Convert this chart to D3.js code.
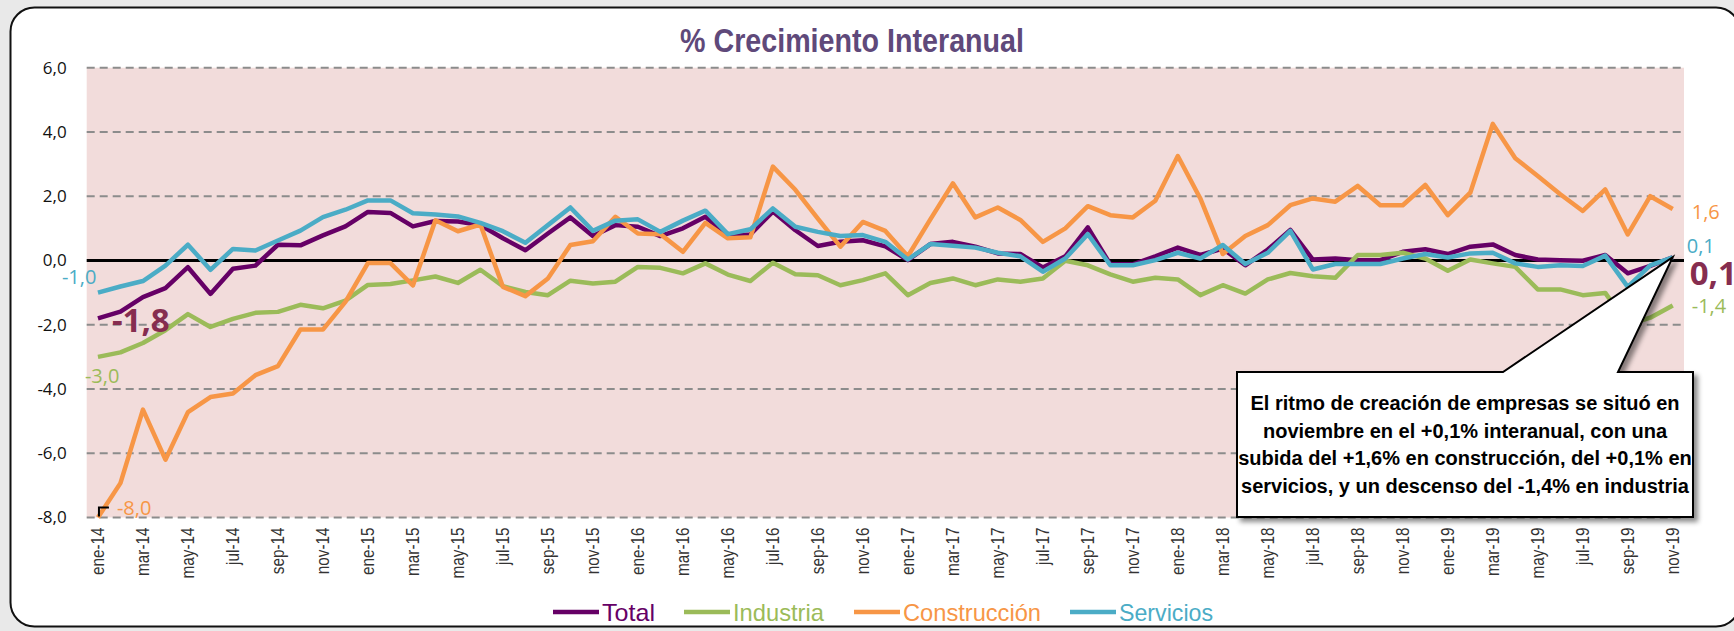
<!DOCTYPE html>
<html lang="es">
<head>
<meta charset="UTF-8">
<title>% Crecimiento Interanual</title>
<script src="https://cdn.jsdelivr.net/npm/d3@7/dist/d3.min.js"></script>
<style>
    html, body { margin: 0; padding: 0; background: #e9e9e9; }
    svg { display: block; }
</style>
</head>
<body>
<svg id="chart" width="1734" height="631"></svg>
<script>

// ene-14 ... nov-19
var monthNames = ["ene", "feb", "mar", "abr", "may", "jun", "jul", "ago", "sep", "oct", "nov", "dic"];
var years = ["14", "15", "16", "17", "18", "19"];
var months = [];
years.forEach(function(y) {
    monthNames.forEach(function(m) { months.push(m + "-" + y); });
});
months = months.slice(0, 71);

var total = [
    -1.8, -1.59, -1.14, -0.86, -0.21, -1.04, -0.26, -0.16, 0.49, 0.47, 0.78, 1.06,
    1.51, 1.48, 1.06, 1.23, 1.21, 1.1, 0.69, 0.32, 0.84, 1.34, 0.76, 1.1,
    1.05, 0.76, 1.0, 1.36, 0.76, 0.81, 1.52, 0.94, 0.45, 0.58, 0.63, 0.44,
    0.01, 0.51, 0.58, 0.43, 0.22, 0.2, -0.22, 0.13, 1.03, -0.12, -0.12, 0.13,
    0.4, 0.17, 0.37, -0.15, 0.34, 0.95, 0.03, 0.06, 0.01, 0.01, 0.27, 0.35,
    0.2, 0.43, 0.5, 0.17, 0.03, 0.01, -0.01, 0.17, -0.4, -0.17, 0.1
];
var industria = [
    -3.0, -2.86, -2.57, -2.17, -1.67, -2.07, -1.82, -1.63, -1.6, -1.38, -1.49, -1.25,
    -0.76, -0.73, -0.62, -0.5, -0.7, -0.29, -0.8, -0.98, -1.08, -0.63, -0.72, -0.66,
    -0.2, -0.23, -0.4, -0.09, -0.44, -0.64, -0.07, -0.43, -0.46, -0.77, -0.61, -0.4,
    -1.08, -0.7, -0.56, -0.77, -0.59, -0.66, -0.56, -0.01, -0.15, -0.43, -0.66, -0.54,
    -0.59, -1.08, -0.77, -1.03, -0.59, -0.39, -0.49, -0.54, 0.17, 0.17, 0.24, 0.06,
    -0.32, 0.03, -0.09, -0.2, -0.9, -0.9, -1.08, -1.01, -2.0, -1.78, -1.4
];
var construccion = [
    -8.0, -6.93, -4.64, -6.2, -4.72, -4.25, -4.14, -3.57, -3.29, -2.15, -2.15, -1.29,
    -0.08, -0.08, -0.78, 1.25, 0.91, 1.12, -0.82, -1.11, -0.56, 0.48, 0.6, 1.36,
    0.84, 0.82, 0.27, 1.17, 0.69, 0.72, 2.92, 2.2, 1.3, 0.43, 1.2, 0.92,
    0.13, 1.28, 2.4, 1.34, 1.65, 1.26, 0.58, 1.0, 1.69, 1.41, 1.34, 1.86,
    3.25, 1.93, 0.2, 0.76, 1.1, 1.72, 1.93, 1.83, 2.32, 1.72, 1.72, 2.35,
    1.41, 2.11, 4.25, 3.18, 2.63, 2.06, 1.54, 2.21, 0.81, 2.0, 1.6
];
var servicios = [
    -1.0, -0.81, -0.64, -0.16, 0.49, -0.29, 0.36, 0.31, 0.62, 0.93, 1.35, 1.58,
    1.87, 1.87, 1.47, 1.43, 1.37, 1.17, 0.91, 0.55, 1.1, 1.65, 0.92, 1.24,
    1.28, 0.89, 1.24, 1.55, 0.82, 0.97, 1.62, 1.05, 0.89, 0.76, 0.79, 0.58,
    0.03, 0.51, 0.46, 0.4, 0.24, 0.13, -0.35, 0.06, 0.82, -0.15, -0.15, 0.01,
    0.24, 0.06, 0.48, -0.11, 0.24, 0.92, -0.28, -0.11, -0.11, -0.11, 0.06, 0.2,
    0.09, 0.22, 0.24, -0.09, -0.2, -0.15, -0.17, 0.15, -0.82, -0.15, 0.1
];

var yTicks = [-8, -6, -4, -2, 0, 2, 4, 6];
var seriesNames = ["Total", "Industria", "Construcción", "Servicios"];
var seriesColors = ["#660066", "#9bbb59", "#f79646", "#4bacc6"];
var seriesValues = [total, industria, construccion, servicios];

var calloutLines = [
    "El ritmo de creación de empresas se situó en",
    "noviembre en el +0,1% interanual, con una",
    "subida del +1,6% en construcción, del +0,1% en",
    "servicios, y un descenso del -1,4% en industria"
];

var es = d3.formatLocale({decimal: ",", thousands: ".", grouping: [3], currency: ["", " €"], minus: "-"});
var fmt = es.format(".1f");

var svg = d3.select("#chart");

// sombra del recuadro
var defs = svg.append("defs");
var filt = defs.append("filter").attr("id", "shadow")
    .attr("x", "-10%").attr("y", "-10%").attr("width", "130%").attr("height", "140%");
filt.append("feDropShadow")
    .attr("dx", 4).attr("dy", 4).attr("stdDeviation", 2.5)
    .attr("flood-color", "#000").attr("flood-opacity", 0.45);

// marco exterior
svg.append("rect")
    .attr("x", 10.5).attr("y", 7.5)
    .attr("width", 1729.5).attr("height", 619)
    .attr("rx", 24)
    .attr("fill", "#fff")
    .attr("stroke", "#111")
    .attr("stroke-width", 2);

var plot = {left: 86.7, right: 1684, top: 67.7, bottom: 517.5};

var x = d3.scaleBand()
    .domain(months)
    .range([plot.left, plot.right])
    .padding(0);

var y = d3.scaleLinear()
    .domain([-8, 6])
    .range([plot.bottom, plot.top]);

var cx = function(i) { return x(months[i]) + x.bandwidth() / 2; };

// fondo
svg.append("rect")
    .attr("x", plot.left).attr("y", plot.top)
    .attr("width", plot.right - plot.left)
    .attr("height", plot.bottom - plot.top)
    .attr("fill", "#f2dcdb");

// rejilla
svg.append("g")
    .selectAll("line")
    .data(yTicks.filter(function(d) { return d !== 0; }))
    .enter().append("line")
    .attr("x1", plot.left).attr("x2", plot.right)
    .attr("y1", function(d) { return y(d); })
    .attr("y2", function(d) { return y(d); })
    .attr("stroke", "#8c8c8c")
    .attr("stroke-width", 2)
    .attr("stroke-dasharray", "8,5");

svg.append("line")
    .attr("x1", plot.left).attr("x2", plot.right)
    .attr("y1", y(0)).attr("y2", y(0))
    .attr("stroke", "#000")
    .attr("stroke-width", 3);

// eje Y
var yAxis = svg.append("g")
    .attr("transform", "translate(" + (plot.left - 20) + ",0)")
    .call(d3.axisLeft(y).tickValues(yTicks).tickSize(0).tickPadding(0).tickFormat(fmt));
yAxis.select(".domain").remove();
yAxis.selectAll("text")
    .attr("font-family", "Open Sans, Noto Sans, sans-serif")
    .attr("font-size", 17)
    .attr("fill", "#111");

// eje X
var xAxis = svg.append("g")
    .attr("transform", "translate(0," + (plot.bottom + 10) + ")")
    .call(d3.axisBottom(x)
        .tickValues(months.filter(function(d, i) { return i % 2 === 0; }))
        .tickSize(0).tickPadding(0));
xAxis.select(".domain").remove();
xAxis.selectAll("text")
    .attr("font-family", "Liberation Sans, Arial, sans-serif")
    .attr("font-size", 18)
    .attr("fill", "#333")
    .attr("text-anchor", "end")
    .attr("transform", "rotate(-90) scale(0.85,1)")
    .attr("x", 0)
    .attr("y", 0)
    .attr("dy", "0.35em");

// series
var line = d3.line()
    .x(function(d, i) { return cx(i); })
    .y(function(d) { return y(d); });

svg.append("g")
    .selectAll("path")
    .data(seriesValues)
    .enter().append("path")
    .attr("d", line)
    .attr("fill", "none")
    .attr("stroke", function(d, i) { return seriesColors[i]; })
    .attr("stroke-width", 4.5)
    .attr("stroke-linejoin", "round");

// guia de la etiqueta -8,0
svg.append("path")
    .attr("d", "M" + (cx(0) + 1) + "," + (y(construccion[0]) - 1) + "V" + (y(construccion[0]) - 10) + "h10")
    .attr("fill", "none")
    .attr("stroke", "#000")
    .attr("stroke-width", 2);

// etiquetas de inicio y fin
var labels = [
    {v: servicios[0], i: 0, dx: -36, dy: -9, c: seriesColors[3], big: false},
    {v: total[0], i: 0, dx: 14, dy: 14, c: "#862d4f", big: true},
    {v: industria[0], i: 0, dx: -13, dy: 26, c: seriesColors[1], big: false},
    {v: construccion[0], i: 0, dx: 19, dy: -2.5, c: seriesColors[2], big: false},
    {v: construccion[70], i: 70, dx: 19, dy: 10, c: seriesColors[2], big: false},
    {v: servicios[70], i: 70, dx: 14, dy: -4, c: seriesColors[3], big: false},
    {v: total[70], i: 70, dx: 17, dy: 28, c: "#862d4f", big: true},
    {v: industria[70], i: 70, dx: 19, dy: 8, c: seriesColors[1], big: false}
];
svg.append("g")
    .selectAll("text")
    .data(labels)
    .enter().append("text")
    .attr("x", function(d) { return cx(d.i) + d.dx; })
    .attr("y", function(d) { return y(d.v) + d.dy; })
    .attr("font-family", "Open Sans, Noto Sans, sans-serif")
    .attr("font-size", function(d) { return d.big ? 33 : 20; })
    .attr("font-weight", function(d) { return d.big ? "bold" : "normal"; })
    .attr("fill", function(d) { return d.c; })
    .text(function(d) { return fmt(d.v); });

// titulo
svg.append("text")
    .attr("x", 852).attr("y", 52)
    .attr("text-anchor", "middle")
    .attr("font-family", "Liberation Sans, Arial, sans-serif")
    .attr("font-size", 34)
    .attr("font-weight", "bold")
    .attr("textLength", 344)
    .attr("lengthAdjust", "spacingAndGlyphs")
    .attr("fill", "#5f497a")
    .text("% Crecimiento Interanual");

// recuadro explicativo
var box = {x0: 1237, x1: 1693, y0: 372, y1: 517};
var tipX = cx(70), tipY = y(total[70]);
svg.append("path")
    .attr("d", "M" + box.x0 + "," + box.y0 + "H1503L" + tipX + "," + tipY + "L1618," + box.y0 +
        "H" + box.x1 + "V" + box.y1 + "H" + box.x0 + "Z")
    .attr("fill", "#fff")
    .attr("stroke", "#000")
    .attr("stroke-width", 2)
    .attr("filter", "url(#shadow)");

svg.append("g")
    .selectAll("text")
    .data(calloutLines)
    .enter().append("text")
    .attr("x", (box.x0 + box.x1) / 2)
    .attr("y", function(d, i) { return 410 + i * 27.7; })
    .attr("text-anchor", "middle")
    .attr("font-family", "Liberation Sans Narrow, Arial Narrow, sans-serif")
    .attr("font-size", 20)
    .attr("font-weight", "bold")
    .attr("fill", "#000")
    .text(function(d) { return d; });

// leyenda
var legendX = [553, 684, 854, 1070];
var legendW = [53, 91, 138, 94];
var legend = svg.append("g")
    .selectAll("g")
    .data(seriesNames)
    .enter().append("g")
    .attr("transform", function(d, i) { return "translate(" + legendX[i] + ",612)"; });
legend.append("line")
    .attr("x1", 0).attr("x2", 46)
    .attr("stroke", function(d, i) { return seriesColors[i]; })
    .attr("stroke-width", 4.5);
legend.append("text")
    .attr("x", 49)
    .attr("y", 9)
    .attr("font-family", "Liberation Sans, Arial, sans-serif")
    .attr("font-size", 24)
    .attr("textLength", function(d, i) { return legendW[i]; })
    .attr("lengthAdjust", "spacingAndGlyphs")
    .attr("fill", function(d, i) { return seriesColors[i]; })
    .text(function(d) { return d; });

</script>
</body>
</html>
